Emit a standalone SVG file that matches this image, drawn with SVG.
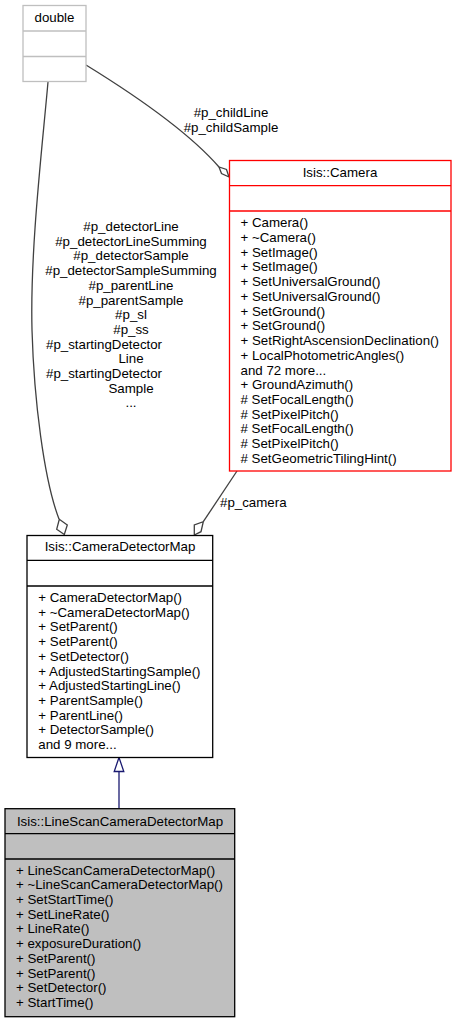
<svg xmlns="http://www.w3.org/2000/svg" width="456" height="1023" viewBox="0 0 456 1023">
<style>
text{font-family:"Liberation Sans",Arial,Helvetica,sans-serif;font-size:13.3px;fill:#000}
.c{text-anchor:middle}
.edge{fill:none;stroke:#404040;stroke-width:1.3}
.dia{fill:#fff;stroke:#404040;stroke-width:1.3}
</style>
<rect width="456" height="1023" fill="#fff"/>
<g id="connectors">
<path class="edge" d="M86,65 C125,89 185,128 219,167"/>
<polygon class="dia" points="229,177 221.5,173.5 219,167 226.5,169.5"/>
<path class="edge" d="M48,82 C42,150 30,250 32,330 C34,400 44,480 59,519"/>
<polygon class="dia" points="64.3,534.5 56.7,529.3 59.3,519.3 67.3,525"/>
<path class="edge" d="M237,471 L203.3,521.7"/>
<polygon class="dia" points="194.3,535 194.3,525 203.3,521.7 201,531.7"/>
<path d="M119,808 L119,771.5" fill="none" stroke="#191970" stroke-width="1.3"/>
<polygon points="119,757.5 114.2,771.5 123.8,771.5" fill="#fff" stroke="#191970" stroke-width="1.3"/>
<g id="edge-labels">
<text class="c" x="231" y="117.2">#p_childLine</text>
<text class="c" x="231" y="132.2">#p_childSample</text>
<text x="220" y="507">#p_camera</text>
<text class="c" x="131" y="231">#p_detectorLine</text>
<text class="c" x="131" y="245.7">#p_detectorLineSumming</text>
<text class="c" x="131" y="260.4">#p_detectorSample</text>
<text class="c" x="131" y="275.1">#p_detectorSampleSumming</text>
<text class="c" x="131" y="289.8">#p_parentLine</text>
<text class="c" x="131" y="304.5">#p_parentSample</text>
<text class="c" x="131" y="319.2">#p_sl</text>
<text class="c" x="131" y="333.9">#p_ss</text>
<text x="46" y="348.6">#p_startingDetector</text>
<text class="c" x="131" y="363.3">Line</text>
<text x="46" y="378">#p_startingDetector</text>
<text class="c" x="131" y="392.7">Sample</text>
<text class="c" x="131" y="407.4">...</text>
</g>
</g>
<g id="node-double">
<rect x="23" y="5.5" width="63" height="76" fill="#fff" stroke="#bfbfbf" stroke-width="1.3"/>
<line x1="23" y1="31" x2="86" y2="31" stroke="#bfbfbf" stroke-width="1.3"/>
<line x1="23" y1="56.5" x2="86" y2="56.5" stroke="#bfbfbf" stroke-width="1.3"/>
<text class="c" x="54.5" y="22">double</text>
</g>
<g id="node-camera">
<rect x="229.5" y="160.5" width="221.5" height="310.5" fill="#fff" stroke="#ff0000" stroke-width="1.3"/>
<line x1="229.5" y1="185.7" x2="451" y2="185.7" stroke="#ff0000" stroke-width="1.3"/>
<line x1="229.5" y1="211" x2="451" y2="211" stroke="#ff0000" stroke-width="1.3"/>
<text class="c" x="340" y="177.3">Isis::Camera</text>
<text x="240.5" y="227.2">+ Camera()</text>
<text x="240.5" y="241.9">+ ~Camera()</text>
<text x="240.5" y="256.7">+ SetImage()</text>
<text x="240.5" y="271.4">+ SetImage()</text>
<text x="240.5" y="286.1">+ SetUniversalGround()</text>
<text x="240.5" y="300.9">+ SetUniversalGround()</text>
<text x="240.5" y="315.6">+ SetGround()</text>
<text x="240.5" y="330.3">+ SetGround()</text>
<text x="240.5" y="345.1">+ SetRightAscensionDeclination()</text>
<text x="240.5" y="359.8">+ LocalPhotometricAngles()</text>
<text x="240.5" y="374.5">and 72 more...</text>
<text x="240.5" y="389.2">+ GroundAzimuth()</text>
<text x="240.5" y="404"># SetFocalLength()</text>
<text x="240.5" y="418.7"># SetPixelPitch()</text>
<text x="240.5" y="433.4"># SetFocalLength()</text>
<text x="240.5" y="448.2"># SetPixelPitch()</text>
<text x="240.5" y="462.9"># SetGeometricTilingHint()</text>
</g>
<g id="node-cameradetectormap">
<rect x="27" y="535.5" width="185.7" height="222" fill="#fff" stroke="#000" stroke-width="1.3"/>
<line x1="27" y1="560.3" x2="212.7" y2="560.3" stroke="#000" stroke-width="1.3"/>
<line x1="27" y1="586" x2="212.7" y2="586" stroke="#000" stroke-width="1.3"/>
<text class="c" x="120" y="551.2">Isis::CameraDetectorMap</text>
<text x="38.3" y="601.8">+ CameraDetectorMap()</text>
<text x="38.3" y="616.5">+ ~CameraDetectorMap()</text>
<text x="38.3" y="631.3">+ SetParent()</text>
<text x="38.3" y="646">+ SetParent()</text>
<text x="38.3" y="660.7">+ SetDetector()</text>
<text x="38.3" y="675.5">+ AdjustedStartingSample()</text>
<text x="38.3" y="690.2">+ AdjustedStartingLine()</text>
<text x="38.3" y="704.9">+ ParentSample()</text>
<text x="38.3" y="719.6">+ ParentLine()</text>
<text x="38.3" y="734.4">+ DetectorSample()</text>
<text x="38.3" y="749.1">and 9 more...</text>
</g>
<g id="node-linescan">
<rect x="5" y="808.7" width="229.7" height="208" fill="#bfbfbf" stroke="#000" stroke-width="1.3"/>
<line x1="5" y1="833.7" x2="234.7" y2="833.7" stroke="#000" stroke-width="1.3"/>
<line x1="5" y1="859" x2="234.7" y2="859" stroke="#000" stroke-width="1.3"/>
<text class="c" x="120" y="825.5">Isis::LineScanCameraDetectorMap</text>
<text x="16" y="874.5">+ LineScanCameraDetectorMap()</text>
<text x="16" y="889.2">+ ~LineScanCameraDetectorMap()</text>
<text x="16" y="904">+ SetStartTime()</text>
<text x="16" y="918.7">+ SetLineRate()</text>
<text x="16" y="933.4">+ LineRate()</text>
<text x="16" y="948.2">+ exposureDuration()</text>
<text x="16" y="962.9">+ SetParent()</text>
<text x="16" y="977.6">+ SetParent()</text>
<text x="16" y="992.3">+ SetDetector()</text>
<text x="16" y="1007.1">+ StartTime()</text>
</g>
</svg>
